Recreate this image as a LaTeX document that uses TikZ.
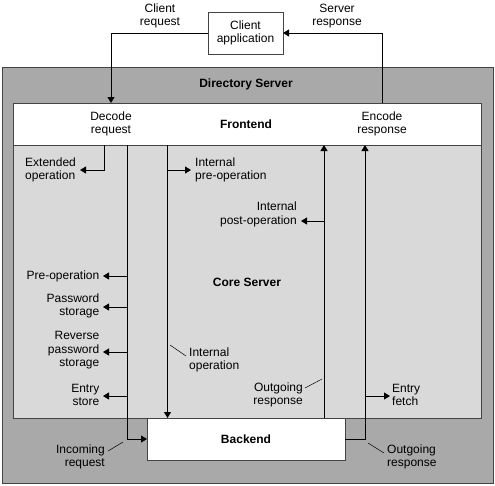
\documentclass[tikz,border=0pt]{standalone}
\usepackage{fontspec}
\setmainfont{Liberation Sans}
\usetikzlibrary{arrows.meta,positioning,calc}
\definecolor{outergray}{HTML}{A9A9A9}
\definecolor{coregray}{HTML}{D9D9D9}
\definecolor{edgegray}{HTML}{444444}
\begin{document}
\begin{tikzpicture}[x=1pt,y=-1pt,
  lbl/.style={font=\fontsize{12}{13.5}\selectfont,inner sep=0pt},
  lblc/.style={lbl,align=center},
  lbll/.style={lbl,align=left,anchor=west},
  lblr/.style={lbl,align=right,anchor=east},
  ttl/.style={font=\fontsize{12}{13.5}\selectfont\bfseries,inner sep=0pt},
  conn/.style={draw=black,line width=0.8pt},
  arr/.style={conn,-{Triangle[length=6pt,width=7pt]}},
  leader/.style={draw=black,line width=0.5pt},
  box/.style={draw=edgegray,line width=0.8pt}]
\useasboundingbox (0,0) rectangle (495,485);
% containers
\path[box,fill=outergray] (2,67) rectangle (493,483);
\path[box,fill=coregray] (13,145) rectangle (481,418);
\path[box,fill=white] (13,103) rectangle (481,145);
\path[box,fill=white] (147,418) rectangle (345,460);
\path[box,fill=white] (208,12) rectangle (283,54);
\coordinate (front) at (246,124);
\coordinate (back) at (246,439);
\coordinate (client) at (245.5,33);
% titles
\node[ttl] (ds) at (246,84) {Directory Server};
\node[ttl] (fe) at (front) {Frontend};
\node[ttl] (cs) at (247,282) {Core Server};
\node[ttl] (be) at (back) {Backend};
\node[lblc] (ca) at (client) {Client\\application};
% labels
\node[lblc] (creq) at (160,16) {Client\\request};
\node[lblc] (sresp) at (337,16) {Server\\response};
\node[lblc] (dec) at (111,124) {Decode\\request};
\node[lblc] (enc) at (382,124) {Encode\\response};
\node[lbll] (ext) at (25,170) {Extended\\operation};
\node[lbll] (ipre) at (195,170) {Internal\\pre-operation};
\node[lblr] (ipost) at (297,214.5) {Internal\\post-operation};
\node[lblr] (pre) at (99.5,276) {Pre-operation};
\node[lblr] (pw) at (99.5,306) {Password\\storage};
\node[lblr] (rpw) at (99.5,350.5) {Reverse\\password\\storage};
\node[lblr] (es) at (99.5,395) {Entry\\store};
\node[lbll] (iop) at (189,360) {Internal\\operation};
\node[lblr] (oresp) at (303,395) {Outgoing\\response};
\node[lbll] (ef) at (392,395) {Entry\\fetch};
\node[lblr] (ireq) at (105,457) {Incoming\\request};
\node[lbll] (oresp2) at (387,457) {Outgoing\\response};
% coordinates
\coordinate (c1) at (111,33);
\coordinate (c1e) at (111,103);
\coordinate (c2) at (382,33);
\coordinate (c2s) at (382,103);
\coordinate (a1) at (104,145);
\coordinate (a1b) at (104,170);
\coordinate (a1t) at (80,170);
\coordinate (b1) at (127,145);
\coordinate (b1b) at (127,439);
\coordinate (d1) at (167.5,145);
\coordinate (d1b) at (167.5,418);
\coordinate (e1) at (324,418);
\coordinate (e1t) at (324,145);
\coordinate (f1) at (345,439);
\coordinate (f1c) at (365,439);
\coordinate (f1t) at (365,145);
% top connectors
\draw[arr] (ca.west -| 208,33) -- (c1) -- (c1e);
\draw[arr] (c2s) -- (c2) -- (283,33);
% core connectors
\draw[arr] (a1) -- (a1b) -- (a1t);
\draw[arr] (b1) -- (b1b) -- (147,439);
\draw[arr] (127,276) -- (103,276);
\draw[arr] (127,307) -- (103,307);
\draw[arr] (127,352) -- (103,352);
\draw[arr] (127,396) -- (103,396);
\draw[arr] (d1) -- (d1b);
\draw[arr] (167.5,170) -- (191,170);
\draw[arr] (e1) -- (e1t);
\draw[arr] (324,221) -- (301,221);
\draw[arr] (f1) -- (f1c) -- (f1t);
\draw[arr] (365,396) -- (390,396);
% leaders
\draw[leader] (170,345) -- (186,356);
\draw[leader] (305,388) -- (322,379);
\draw[leader] (108,451) -- (123,442);
\draw[leader] (368,443) -- (384,453);
\end{tikzpicture}
\end{document}
